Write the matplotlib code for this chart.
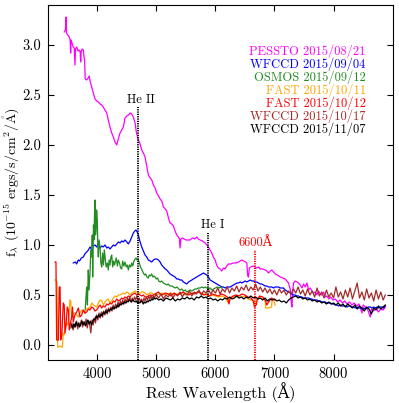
import matplotlib
matplotlib.use("Agg")
import matplotlib.pyplot as plt

plt.rcParams['font.family'] = ['cmr10', 'DejaVu Serif']
plt.rcParams['mathtext.fontset'] = 'cm'
plt.rcParams['axes.unicode_minus'] = False
plt.rcParams['axes.formatter.use_mathtext'] = True

# ---------------- data ----------------
pessto_w = [3441, 3460, 3470, 3478, 3500, 3525, 3540, 3549, 3556, 3566, 3593, 3610, 3622, 3632, 3651, 3675, 3695, 3710, 3719, 3728,
            3745, 3763, 3775, 3785, 3795, 3820, 3845, 3864, 3880, 3905, 3932, 3961, 3990, 4017, 4046, 4075, 4100, 4131, 4160, 4186,
            4215, 4244, 4271, 4300, 4329, 4356, 4385, 4414, 4441, 4469, 4500, 4530, 4554, 4580, 4610, 4640, 4660, 4695, 4720, 4752,
            4780, 4808, 4837, 4864, 4895, 4922, 4950, 4978, 5007, 5034, 5063, 5092, 5119, 5150, 5176, 5205, 5232, 5260, 5288, 5317,
            5345, 5373, 5390, 5402, 5415, 5440, 5470, 5500, 5540, 5571, 5610, 5650, 5685, 5710, 5740, 5780, 5825, 5855, 5881, 5910,
            5939, 5965, 5995, 6020, 6051, 6080, 6108, 6136, 6164, 6190, 6220, 6260, 6305, 6350, 6390, 6420, 6447, 6480, 6510, 6532,
            6545, 6559, 6575, 6600, 6640, 6673, 6700, 6730, 6758, 6800, 6842, 6870, 6899, 6930, 6955, 6985, 7012, 7050, 7097, 7140,
            7181, 7210, 7238, 7255, 7266, 7280, 7295, 7305, 7322, 7351, 7379, 7407, 7435, 7465, 7492, 7520, 7550, 7577, 7605, 7634,
            7661, 7690, 7718, 7746, 7775, 7803, 7831, 7860, 7887, 7920, 7950, 7990, 8030, 8070, 8110, 8150, 8190, 8230, 8270, 8310,
            8350, 8390, 8430, 8460, 8481, 8500, 8540, 8580, 8610, 8622, 8640, 8680, 8720, 8760, 8800, 8840, 8876]
pessto_f = [3.13, 3.15, 3.28, 3.12, 3.10, 3.08, 3.05, 2.92, 3.05, 3.03, 2.98, 2.97, 2.80, 2.96, 2.98, 2.94, 2.95, 2.93, 2.83, 2.94,
            2.96, 2.95, 2.88, 2.85, 2.66, 2.65, 2.67, 2.69, 2.63, 2.58, 2.52, 2.46, 2.44, 2.43, 2.41, 2.40, 2.38, 2.35, 2.32, 2.25,
            2.18, 2.12, 2.08, 2.03, 2.00, 2.06, 2.12, 2.15, 2.18, 2.27, 2.29, 2.30, 2.32, 2.31, 2.28, 2.22, 2.13, 2.05, 2.02, 1.95,
            1.92, 1.88, 1.79, 1.70, 1.67, 1.65, 1.60, 1.57, 1.52, 1.49, 1.46, 1.44, 1.38, 1.36, 1.34, 1.27, 1.22, 1.21, 1.19, 1.14,
            1.10, 1.08, 1.06, 0.97, 1.06, 1.07, 1.06, 1.05, 1.05, 1.05, 1.07, 1.06, 1.08, 1.06, 1.05, 1.04, 1.02, 1.00, 0.98, 0.95,
            0.92, 0.88, 0.85, 0.80, 0.77, 0.76, 0.74, 0.77, 0.76, 0.79, 0.81, 0.81, 0.82, 0.82, 0.83, 0.84, 0.85, 0.84, 0.83, 0.82,
            0.70, 0.68, 0.77, 0.78, 0.79, 0.78, 0.77, 0.78, 0.76, 0.76, 0.75, 0.74, 0.72, 0.74, 0.75, 0.73, 0.71, 0.70, 0.68, 0.67,
            0.66, 0.64, 0.62, 0.58, 0.56, 0.45, 0.38, 0.50, 0.62, 0.64, 0.63, 0.62, 0.60, 0.57, 0.61, 0.58, 0.62, 0.55, 0.57, 0.54,
            0.52, 0.53, 0.50, 0.54, 0.51, 0.50, 0.53, 0.48, 0.49, 0.46, 0.48, 0.45, 0.46, 0.43, 0.45, 0.42, 0.44, 0.41, 0.43, 0.40,
            0.42, 0.39, 0.41, 0.36, 0.32, 0.40, 0.38, 0.35, 0.30, 0.28, 0.36, 0.34, 0.37, 0.33, 0.36, 0.35, 0.38]

wf1_w = [3593, 3630, 3650, 3678, 3700, 3730, 3763, 3790, 3820, 3850, 3876, 3900, 3930, 3961, 3990, 4017, 4046, 4075, 4100, 4131,
         4160, 4186, 4215, 4244, 4272, 4300, 4330, 4356, 4385, 4414, 4441, 4469, 4500, 4525, 4555, 4583, 4610, 4635, 4656, 4675,
         4695, 4720, 4752, 4780, 4808, 4837, 4864, 4892, 4922, 4950, 4978, 5007, 5034, 5063, 5090, 5119, 5150, 5176, 5203, 5232,
         5260, 5288, 5317, 5345, 5373, 5402, 5430, 5458, 5487, 5515, 5545, 5571, 5600, 5627, 5655, 5685, 5712, 5740, 5768, 5797,
         5825, 5853, 5881, 5910, 5940, 5967, 5995, 6024, 6050, 6080, 6108, 6136, 6164, 6193, 6220, 6250, 6278, 6306, 6335, 6363,
         6390, 6420, 6447, 6475, 6505, 6532, 6560, 6588, 6617, 6645, 6673, 6702, 6730, 6758, 6786, 6814, 6842, 6870, 6899, 6927,
         6955, 6985, 7012, 7040, 7068, 7097, 7125, 7153, 7181, 7210, 7237, 7266, 7295, 7322, 7351, 7380, 7407, 7435, 7465, 7492,
         7520, 7550, 7577, 7605, 7633, 7661, 7690, 7718, 7746, 7775, 7803, 7831, 7860, 7887, 7915, 7944, 7972, 8000, 8030, 8058,
         8086, 8114, 8142, 8170, 8200, 8227, 8255, 8283, 8311, 8340, 8368, 8397, 8425, 8453, 8480, 8510, 8540, 8566, 8594, 8622,
         8650, 8680, 8708, 8736, 8764, 8792, 8820, 8848, 8876]
wf1_f = [0.82, 0.83, 0.81, 0.85, 0.84, 0.87, 0.88, 0.91, 0.93, 0.95, 0.98, 0.96, 0.99, 1.00, 0.98, 1.01, 0.97, 0.99, 0.98, 1.00,
         0.97, 0.98, 0.96, 0.98, 1.00, 0.99, 1.01, 1.03, 1.02, 1.04, 1.03, 1.05, 1.03, 1.01, 1.04, 1.08, 1.12, 1.14, 1.15, 1.13,
         1.10, 1.04, 0.98, 0.94, 0.90, 0.88, 0.85, 0.84, 0.83, 0.85, 0.86, 0.86, 0.85, 0.83, 0.80, 0.78, 0.76, 0.75, 0.73, 0.71,
         0.70, 0.69, 0.68, 0.66, 0.66, 0.65, 0.65, 0.63, 0.62, 0.61, 0.63, 0.64, 0.65, 0.66, 0.67, 0.68, 0.69, 0.70, 0.71, 0.72,
         0.71, 0.70, 0.68, 0.65, 0.64, 0.63, 0.62, 0.61, 0.60, 0.59, 0.58, 0.58, 0.57, 0.58, 0.58, 0.58, 0.59, 0.60, 0.61, 0.62,
         0.62, 0.63, 0.62, 0.63, 0.64, 0.63, 0.64, 0.65, 0.64, 0.64, 0.63, 0.63, 0.62, 0.61, 0.61, 0.60, 0.59, 0.59, 0.58, 0.58,
         0.58, 0.57, 0.58, 0.58, 0.58, 0.57, 0.57, 0.57, 0.55, 0.54, 0.53, 0.52, 0.51, 0.50, 0.50, 0.49, 0.49, 0.48, 0.48, 0.47,
         0.47, 0.47, 0.47, 0.46, 0.46, 0.45, 0.45, 0.45, 0.44, 0.44, 0.43, 0.43, 0.43, 0.42, 0.42, 0.42, 0.41, 0.41, 0.40, 0.40,
         0.39, 0.40, 0.39, 0.39, 0.39, 0.38, 0.39, 0.39, 0.38, 0.38, 0.37, 0.38, 0.37, 0.37, 0.36, 0.37, 0.36, 0.37, 0.38, 0.38,
         0.37, 0.38, 0.37, 0.38, 0.37, 0.38, 0.38, 0.37, 0.39]

osmos_w = [3792, 3805, 3820, 3833, 3847, 3860, 3876, 3890, 3905, 3915, 3922, 3935, 3944, 3952, 3961, 3970, 3978, 3988, 4000, 4008,
           4017, 4030, 4046, 4060, 4075, 4090, 4105, 4120, 4131, 4150, 4170, 4186, 4200, 4215, 4230, 4244, 4260, 4275, 4290, 4300,
           4320, 4340, 4356, 4375, 4395, 4414, 4430, 4450, 4469, 4490, 4510, 4525, 4545, 4565, 4583, 4600, 4620, 4640, 4656, 4672,
           4690, 4712, 4730, 4750, 4765, 4780, 4800, 4820, 4840, 4864, 4880, 4900, 4920, 4940, 4960, 4978, 5000, 5020, 5040, 5063,
           5090, 5120, 5150, 5176, 5200, 5230, 5260, 5288, 5320, 5350, 5380, 5402, 5430, 5460, 5490, 5515, 5545, 5570, 5600, 5627,
           5655, 5685, 5712, 5740, 5770, 5800, 5825, 5855, 5880, 5910, 5940, 5970, 6000, 6030, 6060, 6090, 6108]
osmos_f = [0.32, 0.45, 0.58, 0.40, 0.75, 0.55, 0.72, 0.95, 0.88, 1.10, 0.68, 1.20, 1.05, 1.30, 1.45, 1.10, 1.15, 1.35, 1.25, 1.00,
           0.88, 1.05, 0.98, 0.82, 0.78, 0.92, 0.80, 0.95, 0.88, 0.78, 0.82, 0.75, 0.85, 0.80, 0.88, 0.90, 0.78, 0.84, 0.80, 0.82,
           0.87, 0.79, 0.85, 0.82, 0.77, 0.76, 0.84, 0.79, 0.83, 0.78, 0.80, 0.75, 0.80, 0.78, 0.82, 0.79, 0.84, 0.86, 0.87, 0.85,
           0.86, 0.82, 0.78, 0.76, 0.74, 0.72, 0.70, 0.71, 0.68, 0.67, 0.70, 0.69, 0.71, 0.68, 0.69, 0.68, 0.66, 0.67, 0.64, 0.63,
           0.64, 0.62, 0.61, 0.60, 0.61, 0.59, 0.59, 0.58, 0.57, 0.58, 0.56, 0.55, 0.56, 0.54, 0.55, 0.53, 0.54, 0.55, 0.54, 0.55,
           0.56, 0.56, 0.57, 0.57, 0.58, 0.57, 0.58, 0.57, 0.56, 0.57, 0.55, 0.56, 0.57, 0.58, 0.57, 0.58, 0.57]

fast1_w = [3283, 3300, 3318, 3330, 3350, 3370, 3397, 3410, 3424, 3440, 3460, 3481, 3500, 3520, 3537, 3550, 3566, 3590, 3622, 3650,
           3678, 3700, 3736, 3760, 3792, 3820, 3847, 3880, 3910, 3932, 3960, 3990, 4020, 4046, 4075, 4102, 4130, 4159, 4185, 4215,
           4244, 4271, 4300, 4329, 4356, 4385, 4414, 4441, 4470, 4498, 4525, 4554, 4583, 4610, 4640, 4667, 4695, 4724, 4752, 4780,
           4808, 4837, 4865, 4892, 4922, 4950, 4980, 5007, 5050, 5100, 5150, 5200, 5250, 5300, 5350, 5400, 5450, 5500, 5550, 5600,
           5650, 5700, 5750, 5800, 5850, 5900, 5950, 6000, 6050, 6100, 6150, 6200, 6220, 6240, 6300, 6350, 6400, 6450, 6500, 6550,
           6600, 6650, 6680, 6700, 6750, 6800, 6840, 6850, 6900, 6950, 6960, 6990, 7010]
fast1_f = [0.65, 0.65, 0.62, -0.02, -0.02, -0.01, -0.02, -0.02, 0.12, 0.10, 0.15, 0.22, 0.20, 0.30, 0.45, 0.44, 0.28, 0.32, 0.32, 0.30,
           0.28, 0.31, 0.35, 0.34, 0.33, 0.36, 0.37, 0.38, 0.42, 0.40, 0.39, 0.38, 0.42, 0.45, 0.44, 0.40, 0.43, 0.45, 0.46, 0.42,
           0.44, 0.47, 0.49, 0.48, 0.50, 0.50, 0.51, 0.52, 0.51, 0.53, 0.52, 0.50, 0.52, 0.53, 0.54, 0.53, 0.52, 0.52, 0.53, 0.53,
           0.52, 0.50, 0.51, 0.52, 0.52, 0.51, 0.50, 0.50, 0.51, 0.52, 0.50, 0.51, 0.52, 0.50, 0.51, 0.52, 0.51, 0.50, 0.52, 0.51,
           0.52, 0.53, 0.52, 0.51, 0.50, 0.49, 0.50, 0.49, 0.48, 0.49, 0.48, 0.44, 0.42, 0.47, 0.48, 0.49, 0.47, 0.48, 0.49, 0.46,
           0.45, 0.44, 0.40, 0.45, 0.47, 0.46, 0.45, 0.37, 0.37, 0.38, 0.45, 0.44, 0.40]

fast2_w = [3283, 3300, 3312, 3340, 3356, 3370, 3380, 3400, 3424, 3440, 3452, 3470, 3492, 3510, 3525, 3545, 3566, 3580, 3593, 3620,
           3651, 3680, 3707, 3735, 3763, 3790, 3820, 3850, 3876, 3905, 3932, 3960, 3990, 4020, 4046, 4075, 4100, 4131, 4160, 4186,
           4215, 4244, 4272, 4300, 4329, 4356, 4385, 4414, 4441, 4469, 4500, 4525, 4554, 4583, 4610, 4639, 4667, 4695, 4724, 4752,
           4780, 4808, 4837, 4865, 4892, 4922, 4950, 4980, 5007, 5034, 5063, 5100, 5150, 5200, 5250, 5300, 5350, 5400, 5450, 5500,
           5550, 5600, 5650, 5700, 5750, 5800, 5850, 5900, 5950, 6000, 6050, 6100, 6150, 6200, 6230, 6250, 6300, 6350, 6400, 6450,
           6500, 6550, 6600, 6640, 6660, 6690, 6710, 6750, 6800, 6850, 6870, 6900, 6950, 7000]
fast2_f = [0.83, 0.83, 0.05, 0.05, 0.58, 0.58, 0.05, 0.10, 0.42, 0.40, 0.12, 0.20, 0.38, 0.35, 0.15, 0.22, 0.28, 0.38, 0.23, 0.30,
           0.33, 0.37, 0.28, 0.30, 0.35, 0.32, 0.33, 0.36, 0.35, 0.38, 0.37, 0.34, 0.35, 0.38, 0.40, 0.37, 0.39, 0.38, 0.41, 0.40,
           0.42, 0.41, 0.44, 0.43, 0.46, 0.44, 0.45, 0.47, 0.46, 0.48, 0.47, 0.49, 0.48, 0.50, 0.51, 0.52, 0.50, 0.51, 0.50, 0.49,
           0.50, 0.48, 0.48, 0.49, 0.50, 0.49, 0.50, 0.51, 0.52, 0.53, 0.51, 0.50, 0.52, 0.51, 0.49, 0.52, 0.50, 0.51, 0.53, 0.51,
           0.50, 0.52, 0.51, 0.53, 0.52, 0.50, 0.51, 0.49, 0.51, 0.50, 0.49, 0.51, 0.50, 0.48, 0.41, 0.47, 0.49, 0.50, 0.49, 0.51,
           0.50, 0.48, 0.47, 0.44, 0.38, 0.40, 0.46, 0.49, 0.48, 0.44, 0.40, 0.43, 0.47, 0.45]

wf2_w = [3550, 3570, 3590, 3610, 3630, 3650, 3670, 3690, 3710, 3730, 3750, 3770, 3790, 3810, 3830, 3850, 3870, 3890, 3910, 3930,
         3950, 3970, 3990, 4010, 4030, 4050, 4070, 4090, 4110, 4130, 4150, 4170, 4190, 4210, 4230, 4250, 4270, 4290, 4310, 4330,
         4350, 4370, 4390, 4410, 4430, 4450, 4470, 4490, 4510, 4530, 4550, 4570, 4590, 4610, 4630, 4650, 4670, 4690, 4710, 4730,
         4750, 4770, 4790, 4810, 4830, 4850, 4870, 4890, 4910, 4930, 4950, 4970, 4990, 5000, 5040, 5080, 5120, 5160, 5200, 5240,
         5280, 5320, 5360, 5400, 5440, 5480, 5520, 5560, 5600, 5640, 5680, 5720, 5760, 5800, 5840, 5880, 5920, 5960, 6000, 6040,
         6080, 6120, 6160, 6200, 6240, 6280, 6320, 6360, 6400, 6440, 6480, 6520, 6560, 6600, 6640, 6680, 6720, 6760, 6800, 6840,
         6880, 6920, 6960, 7000, 7040, 7080, 7120, 7160, 7200, 7240, 7280, 7320, 7360, 7400, 7440, 7480, 7520, 7560, 7600, 7640,
         7680, 7720, 7760, 7800, 7840, 7880, 7920, 7960, 8000, 8040, 8080, 8120, 8160, 8200, 8240, 8280, 8320, 8360, 8400, 8440,
         8480, 8520, 8560, 8600, 8640, 8680, 8720, 8760, 8800, 8840, 8876]
wf2_f = [0.17, 0.22, 0.15, 0.21, 0.18, 0.24, 0.16, 0.22, 0.19, 0.25, 0.18, 0.23, 0.20, 0.26, 0.17, 0.24, 0.21, 0.12, 0.25, 0.20,
         0.27, 0.22, 0.30, 0.25, 0.32, 0.27, 0.33, 0.28, 0.34, 0.30, 0.36, 0.31, 0.37, 0.33, 0.38, 0.34, 0.40, 0.36, 0.41, 0.37,
         0.43, 0.39, 0.44, 0.40, 0.45, 0.41, 0.46, 0.42, 0.47, 0.44, 0.48, 0.43, 0.47, 0.44, 0.48, 0.45, 0.49, 0.44, 0.47, 0.43,
         0.46, 0.42, 0.47, 0.44, 0.48, 0.45, 0.49, 0.46, 0.50, 0.46, 0.49, 0.47, 0.51, 0.50, 0.47, 0.51, 0.46, 0.50, 0.48, 0.52,
         0.47, 0.51, 0.49, 0.53, 0.48, 0.52, 0.50, 0.54, 0.49, 0.53, 0.51, 0.55, 0.50, 0.54, 0.52, 0.56, 0.51, 0.55, 0.52, 0.57,
         0.51, 0.56, 0.53, 0.58, 0.52, 0.57, 0.54, 0.59, 0.53, 0.58, 0.55, 0.60, 0.54, 0.58, 0.55, 0.61, 0.54, 0.58, 0.53, 0.57,
         0.52, 0.56, 0.51, 0.55, 0.50, 0.56, 0.52, 0.55, 0.50, 0.54, 0.51, 0.56, 0.52, 0.58, 0.51, 0.55, 0.49, 0.56, 0.50, 0.54,
         0.48, 0.57, 0.49, 0.53, 0.47, 0.55, 0.48, 0.52, 0.47, 0.58, 0.48, 0.53, 0.46, 0.55, 0.48, 0.57, 0.46, 0.54, 0.62, 0.47,
         0.53, 0.45, 0.56, 0.47, 0.52, 0.44, 0.55, 0.46, 0.53, 0.45, 0.50]

wf3_w = [3560, 3580, 3600, 3620, 3640, 3660, 3680, 3700, 3720, 3740, 3760, 3780, 3800, 3820, 3840, 3860, 3880, 3900, 3920, 3940,
         3960, 3980, 4000, 4020, 4040, 4060, 4080, 4100, 4120, 4140, 4160, 4180, 4200, 4220, 4240, 4260, 4280, 4300, 4320, 4340,
         4360, 4380, 4400, 4420, 4440, 4460, 4480, 4500, 4520, 4540, 4560, 4580, 4600, 4620, 4640, 4660, 4680, 4700, 4720, 4740,
         4760, 4780, 4800, 4820, 4840, 4860, 4880, 4900, 4920, 4940, 4960, 4980, 5000, 5040, 5080, 5120, 5160, 5200, 5240, 5280,
         5320, 5360, 5400, 5440, 5480, 5520, 5560, 5600, 5640, 5680, 5720, 5760, 5800, 5840, 5880, 5920, 5960, 6000, 6040, 6080,
         6120, 6160, 6200, 6240, 6280, 6320, 6360, 6400, 6440, 6480, 6520, 6560, 6600, 6640, 6680, 6720, 6760, 6800, 6840, 6880,
         6920, 6960, 7000, 7040, 7080, 7120, 7160, 7200, 7240, 7280, 7320, 7360, 7400, 7440, 7480, 7520, 7560, 7600, 7640, 7680,
         7720, 7760, 7800, 7840, 7880, 7920, 7960, 8000, 8040, 8080, 8120, 8160, 8200, 8240, 8280, 8320, 8360, 8400, 8440, 8480,
         8520, 8560, 8600, 8640, 8680, 8720, 8760, 8800, 8840, 8876]
wf3_f = [0.20, 0.17, 0.21, 0.18, 0.23, 0.19, 0.22, 0.18, 0.21, 0.24, 0.20, 0.23, 0.19, 0.22, 0.25, 0.21, 0.24, 0.20, 0.23, 0.26,
         0.25, 0.29, 0.27, 0.30, 0.28, 0.31, 0.29, 0.33, 0.31, 0.34, 0.32, 0.35, 0.34, 0.36, 0.35, 0.38, 0.36, 0.38, 0.37, 0.40,
         0.38, 0.41, 0.40, 0.42, 0.41, 0.43, 0.42, 0.44, 0.43, 0.45, 0.44, 0.43, 0.45, 0.44, 0.43, 0.44, 0.42, 0.43, 0.42, 0.44,
         0.43, 0.41, 0.43, 0.42, 0.44, 0.43, 0.45, 0.44, 0.46, 0.45, 0.47, 0.46, 0.47, 0.45, 0.46, 0.44, 0.47, 0.46, 0.45, 0.47,
         0.44, 0.46, 0.45, 0.47, 0.46, 0.48, 0.46, 0.47, 0.45, 0.48, 0.47, 0.49, 0.47, 0.48, 0.46, 0.47, 0.45, 0.46, 0.44, 0.46,
         0.45, 0.47, 0.46, 0.48, 0.46, 0.47, 0.49, 0.47, 0.48, 0.46, 0.48, 0.47, 0.49, 0.47, 0.48, 0.46, 0.47, 0.45, 0.47, 0.44,
         0.46, 0.45, 0.46, 0.44, 0.45, 0.43, 0.44, 0.42, 0.45, 0.47, 0.48, 0.49, 0.47, 0.48, 0.46, 0.47, 0.45, 0.46, 0.44, 0.45,
         0.43, 0.44, 0.42, 0.43, 0.41, 0.43, 0.41, 0.42, 0.40, 0.42, 0.39, 0.41, 0.38, 0.41, 0.39, 0.37, 0.40, 0.36, 0.39, 0.37,
         0.34, 0.38, 0.36, 0.31, 0.37, 0.35, 0.39, 0.36, 0.38, 0.40]

series = [
    ("PESSTO 2015/08/21", pessto_w, pessto_f, "#ff00ff"),
    ("WFCCD 2015/09/04", wf1_w, wf1_f, "#0000ff"),
    ("OSMOS 2015/09/12", osmos_w, osmos_f, "#228b22"),
    ("FAST 2015/10/11", fast1_w, fast1_f, "#ffa500"),
    ("FAST 2015/10/12", fast2_w, fast2_f, "#ff0000"),
    ("WFCCD 2015/10/17", wf2_w, wf2_f, "#a52a2a"),
    ("WFCCD 2015/11/07", wf3_w, wf3_f, "#000000"),
]

lines = [("He II", 4686, 2.38, "black", 2.45, 4745),
         ("He I", 5876, 1.12, "black", 1.20, 5950),
         ("6600Å", 6678, 0.95, "red", 1.02, 6673)]

xticks = [4000, 5000, 6000, 7000, 8000]
yticks = [0.0, 0.5, 1.0, 1.5, 2.0, 2.5, 3.0]

# ---------------- plot ----------------
fig = plt.figure(figsize=(3.99, 4.03), dpi=100)
ax = fig.add_axes([0.121, 0.1067, 0.863, 0.881])

for label, w, f, c in series:
    ax.plot(w, f, color=c, lw=0.9)

ymin, ymax = -0.15, 3.4
for name, x, ytop, c, ylab, xlab in lines:
    ax.plot([x, x], [ymin, ytop], color=c, lw=1.4, ls=(0, (0.6, 0.6)))
    ax.text(xlab, ylab, name, color=c, ha="center", va="center", fontsize=9)

for i, (label, w, f, c) in enumerate(series):
    ax.text(0.9216, 0.8685 - i * 0.0366, label, color=c, ha="right", va="center",
            fontsize=9, transform=ax.transAxes)

ax.set_xlim(3170, 9000)
ax.set_ylim(ymin, ymax)
ax.set_xticks(xticks)
ax.set_yticks(yticks)
ax.set_xticklabels([str(t) for t in xticks])
ax.set_yticklabels(["%.1f" % t for t in yticks])
ax.tick_params(direction="in", top=True, right=True, length=4, labelsize=10.5, pad=5)
ax.set_xlabel("Rest Wavelength (Å)", fontsize=11.5, labelpad=1)
ax.set_ylabel(r"f$_\lambda$ (10$^{-15}$ ergs/s/cm$^2$/$\mathring{\mathrm{A}}$)", fontsize=10, labelpad=1)

fig.savefig("out.png", dpi=100)
